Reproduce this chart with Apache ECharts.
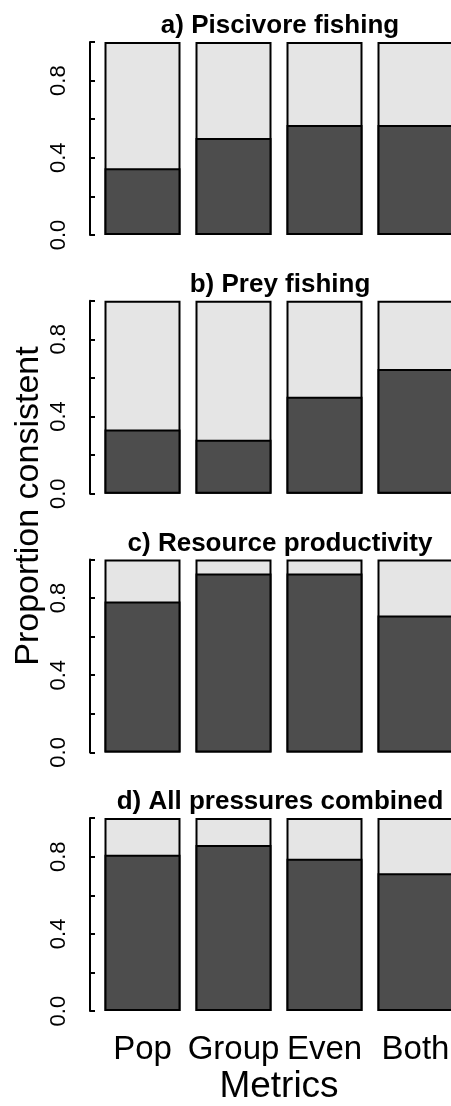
<!DOCTYPE html>
<html>
<head>
<meta charset="utf-8">
<script src="https://cdn.jsdelivr.net/npm/echarts@6/dist/echarts.min.js"></script>
<style>
html,body{margin:0;padding:0;background:#fff;}
#chart{width:451px;height:1106px;}
</style>
</head>
<body>
<div id="chart"></div>
<script>
const categories = ['Pop', 'Group', 'Even', 'Both'];
const panelTitles = ['a) Piscivore fishing', 'b) Prey fishing', 'c) Resource productivity', 'd) All pressures combined'];
const consistentA = [0.346, 0.502, 0.570, 0.570];
const consistentB = [0.332, 0.280, 0.502, 0.646];
const consistentC = [0.782, 0.927, 0.927, 0.709];
const consistentD = [0.810, 0.861, 0.790, 0.714];
const yTickLabels = ['0.0', '0.4', '0.8'];
const yAxisTitle = 'Proportion consistent';
const xAxisTitle = 'Metrics';

const panels = [consistentA, consistentB, consistentC, consistentD];
const FONT = "'Liberation Sans', Arial, Helvetica, sans-serif";
const DARK = '#4d4d4d';
const LIGHT = '#e5e5e5';

const chart = echarts.init(document.getElementById('chart'), null, {renderer: 'canvas'});

const grids = [], xAxes = [], yAxes = [], series = [], titles = [];
panels.forEach((vals, i) => {
  const top = 42 + i * 258.7;
  grids.push({left: 97, width: 364, top: top, height: 193, containLabel: false, outerBoundsMode: 'none'});
  const last = i === panels.length - 1;
  xAxes.push({
    type: 'category', gridIndex: i, data: categories,
    axisLine: {show: false}, axisTick: {show: false},
    axisLabel: {show: last, color: '#000', fontSize: 33, fontFamily: FONT, margin: 22, interval: 0},
    name: last ? xAxisTitle : '', nameLocation: 'middle', nameGap: 57,
    nameTextStyle: {color: '#000', fontSize: 37, fontFamily: FONT}
  });
  yAxes.push({
    type: 'value', gridIndex: i, min: 0, max: 1, interval: 0.2, offset: 7,
    axisLine: {show: true, lineStyle: {color: '#000', width: 2}},
    axisTick: {show: true, inside: true, length: 5, lineStyle: {color: '#000', width: 2}},
    splitLine: {show: false},
    axisLabel: {
      show: true, rotate: 90, margin: 20, color: '#000', fontSize: 22, fontFamily: FONT,
      formatter: v => { const s = v.toFixed(1); return yTickLabels.indexOf(s) >= 0 ? s : ''; }
    }
  });
  const inconsistent = vals.map(v => +(1 - v).toFixed(3));
  const totals = vals.map((v, j) => v + inconsistent[j]);
  // light (inconsistent) part: full bar behind, the dark consistent part drawn over it
  series.push({
    type: 'bar', xAxisIndex: i, yAxisIndex: i, barWidth: 76, barGap: '-100%',
    data: totals, itemStyle: {color: LIGHT, borderColor: '#000', borderWidth: 2},
    emphasis: {disabled: true}, animation: false, z: 2
  });
  series.push({
    type: 'bar', xAxisIndex: i, yAxisIndex: i, barWidth: 76, barGap: '-100%',
    data: vals, itemStyle: {color: DARK, borderColor: '#000', borderWidth: 2},
    emphasis: {disabled: true}, animation: false, z: 3
  });
  titles.push({
    text: panelTitles[i], left: 275, top: 8 + i * 258.7, textAlign: 'center',
    textStyle: {color: '#000', fontSize: 26, fontWeight: 'bold', fontFamily: FONT}
  });
});

chart.setOption({
  animation: false,
  backgroundColor: '#fff',
  title: titles,
  grid: grids,
  xAxis: xAxes,
  yAxis: yAxes,
  series: series,
  graphic: [{
    type: 'text', x: 29, y: 506, rotation: Math.PI / 2,
    style: {text: yAxisTitle, fill: '#000', fontSize: 34, fontFamily: FONT, textAlign: 'center', textVerticalAlign: 'middle'}
  }]
});
</script>
</body>
</html>
